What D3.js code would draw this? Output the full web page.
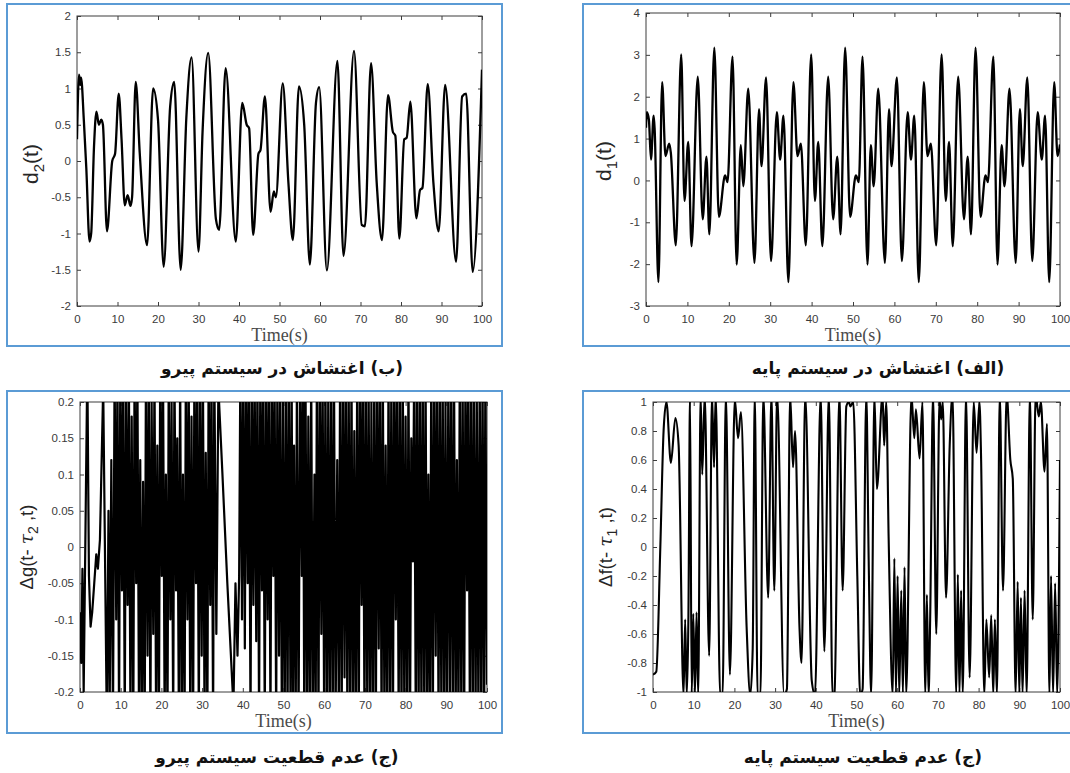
<!DOCTYPE html>
<html>
<head>
<meta charset="utf-8">
<script src="https://cdn.jsdelivr.net/npm/d3@7/dist/d3.min.js"></script>
<style>
  body { margin: 0; background: #fff; }
  svg { display: block; }
</style>
</head>
<body>
<svg id="fig" width="1070" height="773"></svg>
<script>
// ---- data ----
const timeTicks = [0, 10, 20, 30, 40, 50, 60, 70, 80, 90, 100];

// (b) d2(t)
const d2Ticks = [-2, -1.5, -1, -0.5, 0, 0.5, 1, 1.5, 2];
const d2Points = [
  [0, 0.30], [0.5, 1.19], [0.8, 1.05], [1.0, 1.15], [1.7, 0.55], [2.3, -0.1], [3.1, -1.11], [3.5, -1.0],
  [4.2, 0.2], [4.8, 0.68], [5.4, 0.50], [6.0, 0.57], [6.4, 0.5], [7.4, -0.97], [8.7, 0.0], [9.4, 0.1],
  [10.3, 0.93], [11.0, 0.3], [11.8, -0.61], [12.5, -0.47], [13.2, -0.62], [13.6, -0.5], [14.5, 1.09],
  [15.5, 0.1], [17.3, -1.16], [18.8, 1.0], [20.0, 0.57], [21.4, -1.46], [23.0, 0.75], [24.0, 1.09],
  [25.6, -1.5], [27.0, 0.6], [28.3, 1.43], [30.0, -1.25], [31.0, 0.4], [32.4, 1.49], [34.3, -0.8],
  [35.1, -0.95], [36.7, 1.28], [39.2, -1.11], [40.8, 0.8], [41.9, 0.5], [42.5, 0.45], [43.5, -1.02],
  [44.8, 0.1], [45.3, 0.15], [46.4, 0.89], [47.8, -0.7], [48.6, -0.42], [49.1, -0.5], [50.8, 1.07],
  [52.2, -0.3], [53.3, -1.09], [54.8, 1.03], [56.1, 0.5], [57.5, -1.43], [59.0, 0.8], [59.8, 1.02],
  [61.7, -1.51], [64.3, 1.38], [65.8, -1.31], [68.4, 1.52], [70.3, -0.88], [71.1, -0.9], [72.6, 1.35],
  [74.0, -0.3], [75.3, -1.09], [76.8, 0.91], [78.0, 0.4], [78.6, 0.35], [79.6, -1.07], [80.8, 0.3],
  [81.4, 0.32], [82.3, 0.82], [83.8, -0.79], [84.7, -0.4], [85.3, -0.37], [86.6, 1.06], [88.0, -0.3],
  [89.3, -0.97], [90.9, 1.05], [93.6, -1.39], [95.1, 0.89], [96.1, 0.93], [97.7, -1.53], [100, 1.26]
];

// (alef) d1(t)
const d1Ticks = [-3, -2, -1, 0, 1, 2, 3, 4];
const d1Points = [
  [0, 1.26], [0.2, 1.63], [0.7, 1.45], [1.2, 0.5], [1.85, 1.55], [2.1, 1.2], [3.0, -2.43], [3.9, 2.35],
  [4.7, 0.58], [5.6, 0.88], [6.0, 0.66], [7.2, -1.55], [8.5, 3.01], [9.3, -0.49], [10.2, 0.92],
  [11.0, -1.57], [12.5, 2.48], [13.7, -0.93], [14.6, 0.57], [15.3, -1.29], [16.5, 3.17], [17.6, -0.87],
  [19.1, 0.12], [19.7, -0.04], [20.9, 2.96], [21.9, -2.01], [22.9, 0.84], [23.5, -0.14], [24.7, 2.19],
  [26.2, -1.97], [27.3, 1.7], [27.9, 0.34], [29.0, 2.46], [30.2, -1.93], [31.6, 1.63], [32.4, 0.5],
  [33.2, 1.55], [34.4, -2.43], [35.6, 2.35], [36.6, 0.58], [37.4, 0.88], [38.6, -1.55], [39.9, 3.01],
  [40.8, -0.49], [41.6, 0.92], [42.6, -1.57], [44.0, 2.48], [45.2, -0.93], [46.2, 0.57], [47.0, -1.29],
  [48.1, 3.17], [49.3, -0.87], [50.7, 0.12], [51.4, -0.04], [52.3, 2.96], [53.5, -2.01], [54.3, 0.84],
  [55.0, -0.14], [56.1, 2.19], [57.7, -1.97], [58.7, 1.7], [59.3, 0.34], [60.6, 2.46], [61.8, -1.93],
  [63.2, 1.63], [64.0, 0.5], [64.8, 1.55], [65.9, -2.43], [67.1, 2.35], [68.0, 0.58], [68.8, 0.88],
  [70.1, -1.55], [71.4, 3.01], [72.4, -0.49], [73.2, 0.92], [74.1, -1.57], [75.4, 2.48], [76.8, -0.93],
  [77.7, 0.57], [78.5, -1.29], [79.6, 3.17], [80.8, -0.87], [82.0, 0.12], [82.6, -0.04], [83.9, 2.96],
  [84.9, -2.01], [85.9, 0.84], [86.6, -0.14], [87.8, 2.19], [89.3, -1.97], [90.3, 1.7], [91.0, 0.34],
  [92.1, 2.46], [93.3, -1.93], [94.6, 1.63], [95.6, 0.5], [96.4, 1.55], [97.4, -2.43], [98.6, 2.35],
  [99.4, 0.58], [100, 0.86]
];

// (jim) delta g, follower system
const dgTicks = [-0.2, -0.15, -0.1, -0.05, 0, 0.05, 0.1, 0.15, 0.2];
const dgPoints = [
  [0, -0.09], [0.3, -0.16], [0.6, -0.03], [0.9, -0.2], [1.2, -0.05], [1.8, 0.25], [2.2, -0.04],
  [2.6, -0.11], [3.0, -0.09], [3.5, -0.05], [4.0, -0.01], [4.4, -0.03], [4.9, 0.01], [5.7, 0.22],
  [6.6, -0.25], [7.0, 0.05], [7.3, -0.22], [7.7, 0.12], [8.1, -0.25], [8.5, 0.25], [8.9, -0.1],
  [9.2, 0.25], [9.6, -0.25], [9.9, 0.25], [10.3, -0.06], [10.6, 0.25], [11.0, -0.25], [11.3, 0.22],
  [11.7, -0.08], [12.0, 0.25], [12.4, -0.25], [12.7, 0.18], [13.1, -0.25], [13.4, 0.25], [13.8, -0.05],
  [14.1, 0.25], [14.5, -0.25], [14.8, 0.12], [15.2, -0.25], [15.5, 0.09], [15.9, -0.25], [16.2, 0.25],
  [16.6, -0.15], [16.9, 0.25], [17.3, -0.25], [17.6, 0.2], [18.0, -0.12], [18.3, 0.25], [18.7, -0.25],
  [19.0, 0.14], [19.4, -0.25], [19.7, 0.25], [20.1, -0.04], [20.4, 0.25], [20.8, -0.25], [21.1, 0.1],
  [21.5, -0.25], [21.8, 0.25], [22.2, -0.1], [22.5, 0.2], [22.9, -0.25], [23.2, 0.25], [23.6, -0.06],
  [23.9, 0.15], [24.3, -0.25], [24.6, 0.25], [25.0, -0.25], [25.3, 0.1], [25.7, -0.25], [26.0, 0.25],
  [26.4, -0.1], [26.7, 0.25], [27.1, -0.25], [27.4, 0.18], [27.8, -0.25], [28.1, 0.25], [28.5, -0.05],
  [28.8, 0.25], [29.2, -0.25], [29.5, 0.25], [29.9, -0.15], [30.2, 0.25], [30.6, -0.25], [30.9, 0.13],
  [31.3, -0.25], [31.6, 0.25], [32.0, -0.08], [32.3, 0.25], [32.7, -0.25], [33.0, 0.25], [33.5, -0.12],
  [34.0, 0.22], [35.0, 0.1], [36.2, -0.05], [37.7, -0.22], [38.2, -0.05], [38.7, -0.15], [39.1, -0.04],
  [39.4, 0.25], [39.8, -0.1], [40.1, 0.25], [40.5, -0.14], [40.8, 0.25], [41.2, -0.05], [41.5, 0.25],
  [41.9, -0.25], [42.2, 0.25], [42.6, -0.08], [42.9, 0.25], [43.3, -0.13], [43.6, 0.25], [44.0, -0.25],
  [44.3, 0.25], [44.7, -0.06], [45.0, 0.25], [45.4, -0.25], [45.7, 0.25], [46.1, -0.1], [46.4, 0.25],
  [46.8, -0.25], [47.1, 0.25], [47.5, -0.04], [47.8, 0.25], [48.2, -0.25], [48.5, 0.25], [48.9, -0.15],
  [49.2, 0.25], [49.6, -0.25], [49.9, 0.2], [50.3, -0.25], [50.6, 0.25], [51.0, -0.25], [51.3, 0.25],
  [51.7, -0.2], [52.0, 0.25], [52.3, -0.25], [52.6, 0.14], [53.0, -0.25], [53.3, 0.25], [53.7, -0.25],
  [54.1, 0.25], [54.5, -0.04], [54.8, 0.25], [55.1, -0.25], [55.4, 0.25], [55.8, -0.25], [56.1, 0.18],
  [56.5, -0.25], [56.8, 0.25], [57.2, -0.25], [57.6, 0.1], [57.9, -0.25], [58.2, 0.25], [58.6, -0.25],
  [58.9, 0.25], [59.3, -0.12], [59.6, 0.25], [60.0, -0.25], [60.3, 0.25], [60.7, -0.25], [61.0, 0.22],
  [61.4, -0.25], [61.7, 0.25], [62.1, -0.25], [62.4, 0.25], [62.8, -0.25], [63.2, 0.12], [63.6, -0.25],
  [63.9, 0.25], [64.3, -0.25], [64.6, 0.25], [65.0, -0.18], [65.3, 0.25], [65.7, -0.25], [66.0, 0.25],
  [66.4, -0.25], [66.7, 0.25], [67.1, -0.25], [67.4, 0.16], [67.8, -0.25], [68.1, 0.25], [68.5, -0.25],
  [68.8, 0.25], [69.2, -0.08], [69.5, 0.25], [69.9, -0.25], [70.2, 0.25], [70.6, -0.25], [70.9, 0.25],
  [71.3, -0.25], [71.6, 0.2], [72.0, -0.25], [72.3, 0.25], [72.7, -0.25], [73.0, 0.25], [73.4, -0.14],
  [73.7, 0.25], [74.1, -0.25], [74.4, 0.25], [74.8, -0.25], [75.1, 0.14], [75.5, -0.25], [75.8, 0.25],
  [76.2, -0.25], [76.5, 0.25], [76.9, -0.25], [77.2, 0.25], [77.6, -0.1], [77.9, 0.25], [78.3, -0.25],
  [78.6, 0.25], [79.0, -0.25], [79.3, 0.25], [79.7, -0.25], [80.0, 0.18], [80.4, -0.25], [80.7, 0.25],
  [81.1, -0.25], [81.4, 0.15], [81.8, -0.02], [82.1, 0.25], [82.5, -0.25], [82.8, 0.25], [83.2, -0.25],
  [83.5, 0.25], [83.9, -0.25], [84.2, 0.25], [84.6, -0.25], [84.9, 0.25], [85.3, -0.25], [85.6, 0.1],
  [86.0, -0.25], [86.3, 0.25], [86.7, -0.25], [87.0, 0.25], [87.4, -0.15], [87.7, 0.25], [88.1, -0.25],
  [88.4, 0.25], [88.8, -0.25], [89.1, 0.25], [89.5, -0.25], [89.8, 0.2], [90.2, -0.25], [90.5, 0.25],
  [90.9, -0.2], [91.2, 0.25], [91.6, -0.25], [91.9, 0.25], [92.3, -0.25], [92.6, 0.12], [93.0, -0.25],
  [93.3, 0.25], [93.7, -0.25], [94.0, 0.25], [94.4, -0.25], [94.7, 0.25], [95.1, -0.06], [95.4, 0.25],
  [95.8, -0.25], [96.1, 0.25], [96.5, -0.25], [96.8, 0.25], [97.2, -0.25], [97.5, 0.2], [97.9, -0.25],
  [98.2, 0.25], [98.6, -0.25], [98.9, 0.25], [99.3, -0.25], [99.6, 0.25], [100, -0.19]
];

// (jim) delta f, base system
const dfTicks = [-1, -0.8, -0.6, -0.4, -0.2, 0, 0.2, 0.4, 0.6, 0.8, 1];
const dfPoints = [
  [0, -0.88], [0.8, -0.86], [1.8, 0.0], [2.6, 0.8], [3.3, 1.0], [4.4, 0.58], [5.5, 0.89], [6.3, 0.7],
  [7.5, -1.02], [7.9, -0.5], [8.3, -1.02], [8.7, -0.48], [9.1, 1.05], [9.5, -1.02], [9.9, -0.46],
  [10.3, -1.02], [10.7, -0.45], [11.1, -1.02], [11.7, 1.05], [12.1, 0.5], [12.7, 1.05], [13.8, -0.75],
  [14.5, 1.05], [15.0, 0.55], [15.4, 1.05], [16.5, -1.02], [17.1, -1.02], [17.9, 1.05], [18.9, -0.88],
  [20.1, 1.02], [20.9, 0.75], [21.6, 0.93], [23.0, -0.55], [23.9, -1.02], [24.5, -0.7], [25.0, 1.05],
  [25.7, -1.02], [26.4, -1.02], [27.1, 1.05], [28.3, -0.35], [29.1, 1.05], [29.8, -0.3], [30.5, 1.05],
  [32.2, -1.02], [32.9, -0.98], [33.7, 1.05], [34.4, 0.55], [34.9, 0.8], [36.0, -0.56], [36.5, -0.8],
  [37.4, 1.05], [39.0, -0.92], [39.8, -1.02], [41.2, 1.05], [42.1, -0.72], [43.2, 1.05], [44.1, -1.02],
  [44.6, -1.0], [45.8, 1.05], [46.6, -0.3], [47.5, 0.97], [48.1, 1.0], [48.5, 0.97], [49.2, 1.0],
  [50.2, -0.2], [50.9, -1.02], [51.5, -0.98], [52.4, 1.05], [53.0, -0.1], [53.6, -1.02], [54.4, 1.05],
  [55.0, 0.4], [56.4, 1.05], [56.8, 0.7], [57.3, 1.0], [57.9, 0.06], [58.9, -1.02], [59.3, -0.08],
  [59.7, -1.02], [60.1, -0.2], [60.5, -1.02], [61.0, -0.3], [61.4, -1.02], [61.8, -0.14], [62.2, -1.02],
  [63.5, 1.05], [64.2, 0.75], [64.6, 0.95], [65.5, 0.61], [66.2, 1.0], [66.9, -1.02], [67.3, -0.33],
  [67.7, -1.02], [68.1, -0.5], [68.8, 1.05], [69.6, -0.6], [70.4, 1.02], [70.8, 0.88], [71.2, 1.0],
  [72.0, -0.35], [72.9, 0.7], [73.6, 1.05], [74.5, -1.02], [74.9, -0.19], [75.3, -1.02], [75.7, -0.3],
  [76.1, -1.02], [76.9, 1.05], [77.8, -0.9], [78.8, 1.0], [79.5, 0.65], [80.2, 1.0], [80.6, 0.63],
  [81.4, -1.02], [81.9, -0.5], [82.6, -0.9], [83.1, -0.47], [83.6, -1.02], [84.0, -0.5], [84.5, -1.02],
  [85.2, 1.05], [86.0, -0.3], [86.9, 1.05], [87.8, 0.6], [88.4, 0.47], [89.1, -1.02], [89.6, -0.24],
  [90.0, -1.02], [90.4, -0.35], [90.8, -1.02], [91.3, -0.3], [91.8, -1.02], [92.6, 1.05], [93.3, -0.5],
  [94.0, 1.05], [94.8, 0.9], [95.3, 1.0], [96.2, 0.52], [96.8, 0.85], [97.4, -1.02], [97.8, -0.2],
  [98.3, -1.02], [98.8, -0.25], [99.3, -1.02], [100, 0.6]
];

const captions = {
  b: '(ب) اغتشاش در سیستم پیرو',
  a: '(الف) اغتشاش در سیستم پایه',
  c: '(ج) عدم قطعیت سیستم پیرو',
  d: '(ج) عدم قطعیت سیستم پایه'
};

// ---- layout ----
const panels = [
  { id: 'b', box: [7, 4, 502, 346], plot: [77, 16, 482, 306], yDomain: [-2, 2], ticks: d2Ticks,
    data: d2Points, width: 2.3, smooth: true, yLabel: ['d', '2', '(t)'], labelPos: [31, 164],
    caption: captions.b, captionPos: [282, 374] },
  { id: 'a', box: [583, 4, 1075, 346], plot: [646, 13, 1060, 306], yDomain: [-3, 4], ticks: d1Ticks,
    data: d1Points, width: 2.3, smooth: true, yLabel: ['d', '1', '(t)'], labelPos: [604, 161],
    caption: captions.a, captionPos: [878, 374] },
  { id: 'c', box: [7, 391, 502, 733], plot: [80, 402, 487, 692], yDomain: [-0.2, 0.2], ticks: dgTicks,
    data: dgPoints, width: 2.2, smooth: false, yLabel: ['Δg(t- ', 'τ', '2', ' ,t)'], labelPos: [27, 547],
    caption: captions.c, captionPos: [277, 763] },
  { id: 'd', box: [583, 391, 1075, 733], plot: [653, 402, 1060, 692], yDomain: [-1, 1], ticks: dfTicks,
    data: dfPoints, width: 2.1, smooth: true, yLabel: ['Δf(t- ', 'τ', '1', ' ,t)'], labelPos: [606, 547],
    caption: captions.d, captionPos: [863, 763] }
];

const svg = d3.select('#fig');
const axisColor = '#3c3c3c';

function drawPanel(p) {
  const g = svg.append('g').attr('class', 'panel-' + p.id);
  const [l, t, r, b] = p.plot;

  g.append('rect')
    .attr('x', p.box[0]).attr('y', p.box[1])
    .attr('width', p.box[2] - p.box[0]).attr('height', p.box[3] - p.box[1])
    .attr('fill', 'none').attr('stroke', '#5b9bd5').attr('stroke-width', 2);

  const x = d3.scaleLinear().domain([0, 100]).range([l, r]);
  const y = d3.scaleLinear().domain(p.yDomain).range([b, t]);

  const clipId = 'clip-' + p.id;
  g.append('clipPath').attr('id', clipId)
    .append('rect').attr('x', l).attr('y', t).attr('width', r - l).attr('height', b - t);

  const fmt = d => String(+d.toFixed(2));

  // axes: labelled bottom/left, bare top/right, ticks pointing inward
  const axes = [
    { a: d3.axisBottom(x).tickValues(timeTicks).tickFormat(fmt), tr: `translate(0,${b})` },
    { a: d3.axisTop(x).tickValues(timeTicks).tickFormat(''), tr: `translate(0,${t})` },
    { a: d3.axisLeft(y).tickValues(p.ticks).tickFormat(fmt), tr: `translate(${l},0)` },
    { a: d3.axisRight(y).tickValues(p.ticks).tickFormat(''), tr: `translate(${r},0)` }
  ];
  axes.forEach((ax, i) => {
    const padding = i === 0 ? 9 : 6;
    const sel = g.append('g')
      .attr('transform', ax.tr)
      .call(ax.a.tickSizeInner(-4).tickSizeOuter(0).tickPadding(padding));
    sel.select('.domain').remove();
    sel.selectAll('line').attr('stroke', axisColor);
    sel.selectAll('text')
      .attr('fill', '#3a3a3a')
      .style('font-family', '"Liberation Sans", Arial, sans-serif')
      .style('font-size', '11.5px');
  });

  g.append('rect')
    .attr('x', l).attr('y', t).attr('width', r - l).attr('height', b - t)
    .attr('fill', 'none').attr('stroke', axisColor).attr('stroke-width', 1);

  const line = d3.line()
    .curve(p.smooth ? d3.curveMonotoneX : d3.curveLinear)
    .x(d => x(d[0])).y(d => y(d[1]));
  g.append('path')
    .datum(p.data)
    .attr('clip-path', `url(#${clipId})`)
    .attr('d', line)
    .attr('fill', 'none')
    .attr('stroke', '#000')
    .attr('stroke-width', p.width)
    .attr('stroke-linejoin', 'round');

  // x label
  g.append('text')
    .attr('x', (l + r) / 2).attr('y', b + 35)
    .attr('text-anchor', 'middle')
    .attr('fill', '#4a4a4a')
    .style('font-family', '"Liberation Serif", "Times New Roman", serif')
    .style('font-size', '18px')
    .text('Time(s)');

  // y label, rotated
  const simple = p.yLabel.length === 3;
  const yl = g.append('text')
    .attr('transform', `translate(${p.labelPos[0]},${p.labelPos[1]}) rotate(-90)`)
    .attr('text-anchor', 'middle')
    .attr('dy', '0.35em')
    .attr('fill', '#262626')
    .style('font-family', '"Liberation Sans", Arial, sans-serif')
    .style('font-size', simple ? '21px' : '18.5px');
  if (simple) {
    yl.append('tspan').text(p.yLabel[0]);
    yl.append('tspan').attr('dy', 6).style('font-size', '15px').text(p.yLabel[1]);
    yl.append('tspan').attr('dy', -6).text(p.yLabel[2]);
  } else {
    yl.append('tspan').text(p.yLabel[0]);
    yl.append('tspan').style('font-style', 'italic').style('font-family', '"DejaVu Serif", serif').text(p.yLabel[1]);
    yl.append('tspan').attr('dy', 5).style('font-size', '14px').text(p.yLabel[2]);
    yl.append('tspan').attr('dy', -5).text(p.yLabel[3]);
  }

  // persian caption under the box
  g.append('text')
    .attr('x', p.captionPos[0]).attr('y', p.captionPos[1])
    .attr('text-anchor', 'middle')
    .attr('direction', 'rtl')
    .attr('fill', '#111')
    .style('font-family', '"DejaVu Sans", "Noto Sans", sans-serif')
    .style('font-size', '17px')
    .style('font-weight', 'bold')
    .text(p.caption);
}

panels.forEach(drawPanel);
</script>
</body>
</html>
